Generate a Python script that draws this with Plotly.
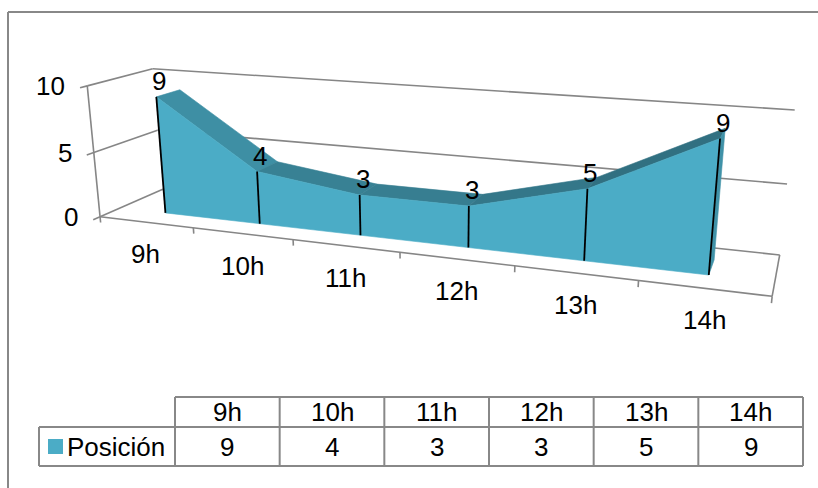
import numpy as np
import plotly.graph_objects as go

# ---------------- data ----------------
categories = ["9h", "10h", "11h", "12h", "13h", "14h"]
series_name = "Posición"
values = [9, 4, 3, 3, 5, 9]
value_ticks = [0, 5, 10]

# ---------------- style ----------------
W, H = 818, 488
FONT = "Liberation Sans, Arial, sans-serif"
FS = 26
GRID = "#868686"
BORDER = "#888888"
BASE = (75, 172, 198)

# perspective camera (3x4 projection: world X=category, Y=depth, Z=value -> screen px)
CAMERA = np.array([
    [88.4754454, 78.15417761, -1.63015978, 145.94173794],
    [3.73096038, -10.35179757, -13.6308384, 222.22519373],
    [-0.0328699, 0.09231308, -0.0037743, 1.0],
])


def proj(X, Y, Z):
    h = CAMERA @ np.array([X, Y, Z, 1.0])
    return float(h[0] / h[2]), float(h[1] / h[2])


n = len(categories)
x0w, x1w = -0.5, n - 0.5
zmax = value_ticks[-1]
ya, yb = 0.31, 0.69  # depth of the area band

fig = go.Figure()


def poly_lines(segs, color, width):
    xs, ys = [], []
    for seg in segs:
        for pt in seg:
            u, v = proj(*pt)
            xs.append(u); ys.append(v)
        xs.append(None); ys.append(None)
    fig.add_trace(go.Scatter(x=xs, y=ys, mode="lines", hoverinfo="skip",
                             line=dict(color=color, width=width), showlegend=False))


def face(pts, rgb):
    xs, ys = zip(*[proj(*pt) for pt in pts])
    col = "rgb(%d,%d,%d)" % rgb
    fig.add_trace(go.Scatter(x=list(xs) + [xs[0]], y=list(ys) + [ys[0]], mode="lines",
                             fill="toself", fillcolor=col, hoverinfo="skip",
                             line=dict(color=col, width=0.6), showlegend=False))


# ---- walls and floor ----
segs = []
for z in value_ticks:
    segs.append([(x0w, 0, z), (x0w, 1, z)])          # side wall gridlines
    segs.append([(x0w, 1, z), (x1w, 1, z)])          # back wall gridlines
    segs.append([(x0w, -0.1, z), (x0w, 0, z)])       # value ticks
segs.append([(x0w, 0, 0), (x0w, 0, zmax)])           # side wall front edge
segs.append([(x0w, 0, 0), (x1w, 0, 0)])              # floor front edge
segs.append([(x1w, 0, 0), (x1w, 1, 0)])              # floor right edge
for k in range(n + 1):
    segs.append([(k - 0.5, 0, 0), (k - 0.5, 0, -0.45)])  # category ticks
poly_lines(segs, GRID, 1.6)


# ---- area ----
def shade(f):
    return tuple(int(round(c * f)) for c in BASE)


for i in range(n - 1):
    dv = values[i + 1] - values[i]
    f = 0.73 - 0.02 * dv
    face([(i, ya, values[i]), (i + 1, ya, values[i + 1]),
          (i + 1, yb, values[i + 1]), (i, yb, values[i])], shade(f))
face([(n - 1, ya, 0), (n - 1, yb, 0), (n - 1, yb, values[-1]), (n - 1, ya, values[-1])],
     shade(0.85))
front = [(i, ya, values[i]) for i in range(n)] + [(n - 1, ya, 0), (0, ya, 0)]
face(front, BASE)
poly_lines([[(i, ya, 0), (i, ya, values[i])] for i in range(n)], "#000000", 1.8)

ann = []
for i, v in enumerate(values):
    u, w = proj(i, ya, v)
    ann.append(dict(x=u, y=w, text=str(v), showarrow=False, xanchor="center",
                    yanchor="middle", xshift=3, yshift=16))
for i, c in enumerate(categories):
    u, w = proj(i, 0, 0)
    ann.append(dict(x=u, y=w, text=c, showarrow=False, xanchor="center",
                    yanchor="middle", yshift=-32))
for z in value_ticks:
    u, w = proj(x0w, 0, z)
    ann.append(dict(x=u, y=w, text=str(z), showarrow=False, xanchor="right",
                    yanchor="middle", xshift=-20))

# ---- data table ----
tl, tr = 175, 803
lg = 39
r0, r1, r2 = 397, 427, 466
cw = (tr - tl) / n
shapes = []
L = dict(color=BORDER, width=2)
shapes.append(dict(type="line", x0=tl, x1=tr, y0=r0, y1=r0, line=L))
shapes.append(dict(type="line", x0=lg, x1=tr, y0=r1, y1=r1, line=L))
shapes.append(dict(type="line", x0=lg, x1=tr, y0=r2, y1=r2, line=L))
shapes.append(dict(type="line", x0=lg, x1=lg, y0=r1, y1=r2, line=L))
for k in range(n + 1):
    xx = tl + k * cw
    shapes.append(dict(type="line", x0=xx, x1=xx, y0=r0, y1=r2, line=L))
for k, c in enumerate(categories):
    xc = tl + (k + 0.5) * cw
    ann.append(dict(x=xc, y=(r0 + r1) / 2, text=c, showarrow=False))
    ann.append(dict(x=xc, y=(r1 + r2) / 2, text=str(values[k]), showarrow=False))
shapes.append(dict(type="rect", x0=48, x1=63, y0=439, y1=454,
                   fillcolor="rgb(%d,%d,%d)" % BASE, line=dict(width=0)))
ann.append(dict(x=65, y=(r1 + r2) / 2, text=series_name, showarrow=False,
                xanchor="left"))

# ---- chart border ----
shapes.append(dict(type="line", x0=8, x1=8, y0=12, y1=H + 5, line=dict(color=BORDER, width=2)))
shapes.append(dict(type="line", x0=8, x1=W + 5, y0=12, y1=12, line=dict(color=BORDER, width=2)))

fig.update_layout(
    width=W, height=H, margin=dict(l=0, r=0, t=0, b=0),
    paper_bgcolor="white", plot_bgcolor="white",
    font=dict(family=FONT, size=FS, color="#000000"),
    xaxis=dict(range=[0, W], visible=False, fixedrange=True),
    yaxis=dict(range=[H, 0], visible=False, fixedrange=True),
    annotations=ann, shapes=shapes, showlegend=False,
)
fig.write_html("out.html")
